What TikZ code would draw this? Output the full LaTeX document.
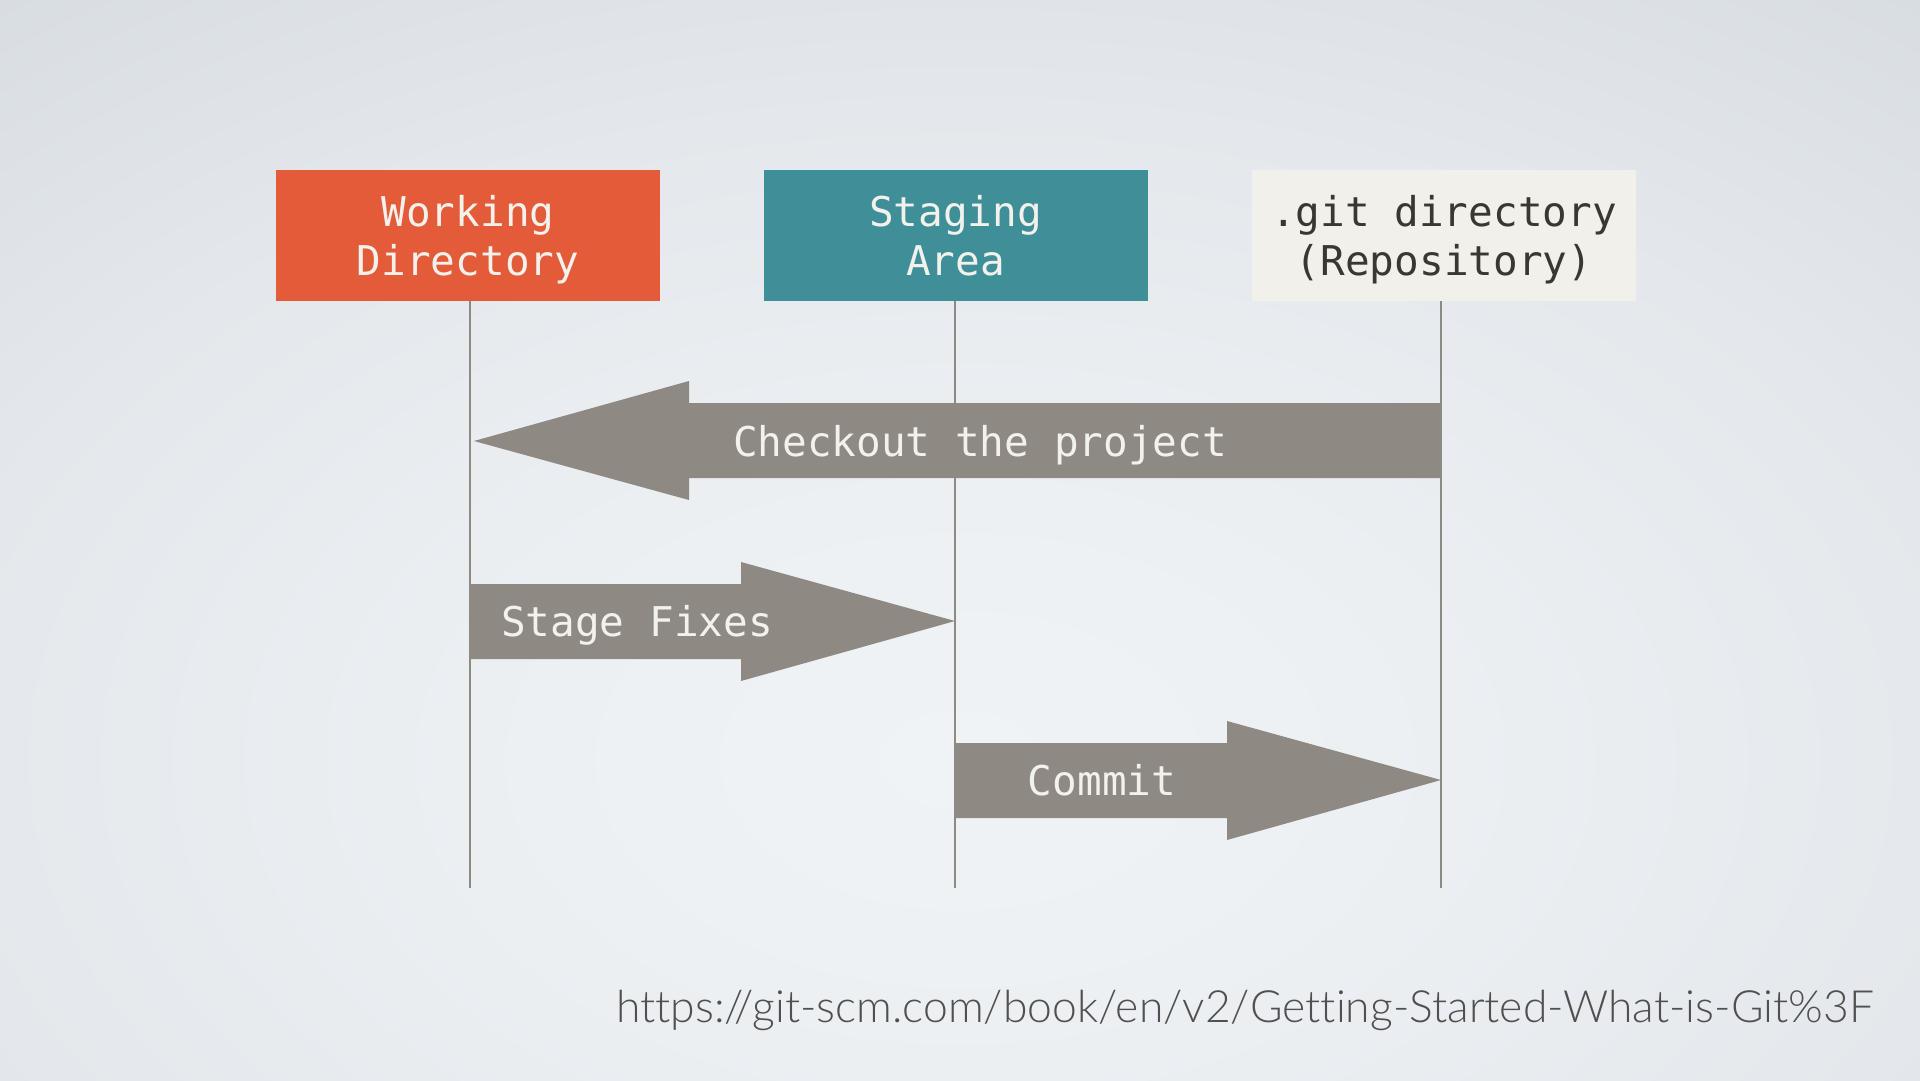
\documentclass[tikz,border=0pt]{standalone}
\usepackage{fontspec}
\setmonofont{DejaVu Sans Mono}
\IfFontExistsTF{Lato Light}
  {\newfontfamily\urlfont[Ligatures=NoCommon]{Lato Light}}
  {\newfontfamily\urlfont[Ligatures=NoCommon]{Lato}}
\definecolor{wdorange}{HTML}{E35B38}
\definecolor{stteal}{HTML}{3F8F99}
\definecolor{gitbox}{HTML}{F1F0EA}
\definecolor{arrowgray}{HTML}{8E8982}
\definecolor{lightText}{HTML}{F3F1EC}
\definecolor{darkText}{HTML}{3A3632}
\definecolor{bgA}{HTML}{F0F3F6}
\definecolor{bgB}{HTML}{EEF1F4}
\definecolor{bgC}{HTML}{E4E8EC}
\definecolor{bgD}{HTML}{D8DDE2}
\definecolor{urlgray}{HTML}{505050}
\pgfdeclareradialshading{slidebg}{\pgfpoint{0bp}{0bp}}{%
  color(0bp)=(bgA); color(20bp)=(bgB); color(65bp)=(bgC); color(97bp)=(bgD); color(100bp)=(bgD)}
\begin{document}
\begin{tikzpicture}[x=1pt,y=-1pt,
  box/.style={minimum width=384pt,minimum height=131pt,inner sep=0pt},
  boxlabel/.style={align=center,inner sep=0pt,
    font=\ttfamily\fontsize{41}{49}\selectfont},
  lifeline/.style={draw=arrowgray,line width=2.5pt},
  bigarrow/.style={fill=arrowgray},
  arrowlabel/.style={text=lightText,font=\ttfamily\fontsize{41}{49}\selectfont,
    inner sep=0pt,text height=30pt,text depth=0pt}]
\begin{scope}
\clip (0,0) rectangle (1920,1080);
\pgflowlevel{\pgftransformcm{15.94}{0}{0}{9.963}{\pgfpoint{960pt}{-760pt}}}
\pgfuseshading{slidebg}
\end{scope}
\useasboundingbox (0,0) rectangle (1920,1080);
% lifelines
\coordinate (l1top) at (470,301); \coordinate (l1bot) at (470,888);
\coordinate (l2top) at (955,301); \coordinate (l2bot) at (955,888);
\coordinate (l3top) at (1441,301); \coordinate (l3bot) at (1441,888);
\draw[lifeline] (l1top) -- (l1bot);
\draw[lifeline] (l2top) -- (l2bot);
\draw[lifeline] (l3top) -- (l3bot);
% boxes
\node[box,fill=wdorange] (wd) at (468,235.5) {};
\node[box,fill=stteal] (sa) at (955.5,235.5) {};
\node[box,fill=gitbox] (git) at (1444,235.5) {};
\node[boxlabel,text=lightText] (wdl) at (468,239.5) {Working\\Directory};
\node[boxlabel,text=lightText] (sal) at (955.5,235.5) {Staging\\Area};
\node[boxlabel,text=darkText] (gitl) at (1444,239.5) {.git directory\\(Repository)};
% checkout arrow
\fill[bigarrow] (474,441) -- (689,381) -- (689,403) -- (1441,403) -- (1441,478) -- (689,478) -- (689,500) -- cycle;
\node[arrowlabel] (co) at (980,441) {Checkout the project};
% stage fixes
\fill[bigarrow] (470,584) -- (741,584) -- (741,562) -- (955,621) -- (741,681) -- (741,659) -- (470,659) -- cycle;
\node[arrowlabel] (sf) at (637,621) {Stage Fixes};
% commit
\fill[bigarrow] (955,743) -- (1227,743) -- (1227,721) -- (1441,780) -- (1227,840) -- (1227,818) -- (955,818) -- cycle;
\node[arrowlabel] (cm) at (1102,780) {Commit};
% url
\node[anchor=base west,inner sep=0pt,text=urlgray] (url) at (616,1022)
  {\resizebox{1257pt}{!}{\urlfont https://git-scm.com/book/en/v2/Getting-Started-What-is-Git\%3F}};
\end{tikzpicture}
\end{document}
